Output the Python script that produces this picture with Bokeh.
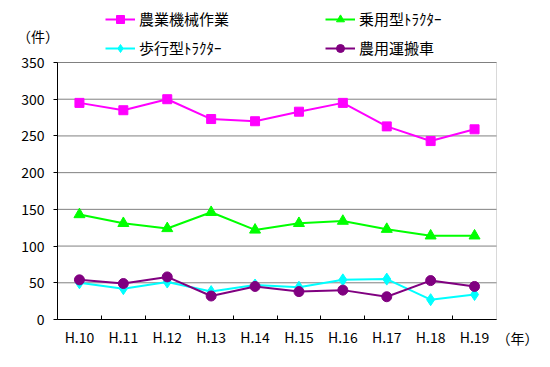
from bokeh.plotting import figure
from bokeh.models import (Range1d, FixedTicker, Legend, LegendItem, Label, LinearAxis,
                          BoxAnnotation)
from bokeh.embed import file_html
from bokeh.resources import INLINE

years = ["H.10", "H.11", "H.12", "H.13", "H.14", "H.15", "H.16", "H.17", "H.18", "H.19"]
farm_work = [295, 285, 300, 273, 270, 283, 295, 263, 243, 259]
riding_tractor = [143, 131, 124, 146, 122, 131, 134, 123, 114, 114]
walking_tractor = [50, 42, 51, 38, 47, 44, 54, 55, 27, 34]
transport_vehicle = [54, 49, 58, 32, 45, 38, 40, 31, 53, 45]

names = ["農業機械作業", "乗用型ﾄﾗｸﾀｰ", "歩行型ﾄﾗｸﾀｰ", "農用運搬車"]
colors = ["#FF00FF", "#00FF00", "#00FFFF", "#800080"]
markers = ["square", "triangle", "diamond", "circle"]
sizes = [9, 11, 12, 10]
y_ticks = [0, 50, 100, 150, 200, 250, 300, 350]
y_max = 350

FONT = "Noto Sans CJK JP"

# layout (pixels on the canvas)
W, H = 542, 351
PL, PR, PT, PB = 57, 496, 62, 319   # plot-area edges

n = len(years)
x = [i + 0.5 for i in range(n)]

xs = (PR - PL) / n
ys = (PB - PT) / y_max
x_range = Range1d(-PL / xs, n + (W - PR) / xs)
y_range = Range1d(-(H - PB) / ys, y_max + PT / ys)

p = figure(width=W, height=H, x_range=x_range, y_range=y_range,
           output_backend="svg", toolbar_location=None,
           x_axis_location=None, y_axis_location=None,
           min_border=0, min_border_left=0, min_border_right=0,
           min_border_top=0, min_border_bottom=0)
p.outline_line_color = None
p.background_fill_color = "white"
p.border_fill_color = "white"
p.xgrid.visible = False
p.ygrid.visible = False

# plot-area border (gray) and horizontal grid lines
p.add_layout(BoxAnnotation(left=0, right=n, bottom=0, top=y_max, fill_alpha=0,
                           line_color="#808080", line_width=1, level="underlay"))
p.segment(x0=[0] * len(y_ticks), x1=[n] * len(y_ticks), y0=y_ticks, y1=y_ticks,
          line_color="#808080", line_width=1)

# y axis
yaxis = LinearAxis(fixed_location=0, bounds=(0, y_max), ticker=FixedTicker(ticks=y_ticks))
yaxis.major_tick_out = 4
yaxis.major_tick_in = 0
yaxis.minor_tick_out = 0
yaxis.minor_tick_in = 0
yaxis.axis_line_color = "black"
yaxis.major_tick_line_color = "black"
yaxis.major_label_text_font = FONT
yaxis.major_label_text_font_size = "14px"
yaxis.major_label_text_color = "black"
yaxis.major_label_standoff = 9
p.add_layout(yaxis, "left")

# x axis
xaxis = LinearAxis(fixed_location=0, bounds=(0, n),
                   ticker=FixedTicker(ticks=x, minor_ticks=list(range(1, n))))
xaxis.major_label_overrides = {xx: lab for xx, lab in zip(x, years)}
xaxis.major_tick_out = 0
xaxis.major_tick_in = 0
xaxis.minor_tick_in = 4
xaxis.minor_tick_out = 0
xaxis.minor_tick_line_color = "black"
xaxis.axis_line_color = "black"
xaxis.major_label_text_font = FONT
xaxis.major_label_text_font_size = "14px"
xaxis.major_label_text_color = "black"
xaxis.major_label_standoff = 7
p.add_layout(xaxis, "below")

series = [farm_work, riding_tractor, walking_tractor, transport_vehicle]
items = []
for name, vals, c, m, s in zip(names, series, colors, markers, sizes):
    r1 = p.line(x, vals, line_color=c, line_width=2)
    r2 = p.scatter(x, vals, marker=m, size=s, fill_color=c, line_color=c)
    items.append(LegendItem(label=name, renderers=[r1, r2]))

legend = Legend(items=items, location=(105, H - 58), orientation="horizontal", ncols=2,
                glyph_width=30, glyph_height=20, label_height=20, label_width=178,
                spacing=8, label_standoff=4, padding=0, margin=0,
                border_line_color=None, background_fill_alpha=0,
                label_text_font=FONT, label_text_font_size="15px",
                label_text_color="black")
p.add_layout(legend, "center")

p.add_layout(Label(x=37.5, y=H - 35, x_units="screen", y_units="screen", text="（件）",
                   text_font=FONT, text_font_size="14px", text_align="center",
                   text_baseline="middle", text_color="black"))
p.add_layout(Label(x=517, y=H - 337, x_units="screen", y_units="screen", text="（年）",
                   text_font=FONT, text_font_size="14px", text_align="center",
                   text_baseline="middle", text_color="black"))

open("out.html", "w").write(file_html(p, INLINE))
